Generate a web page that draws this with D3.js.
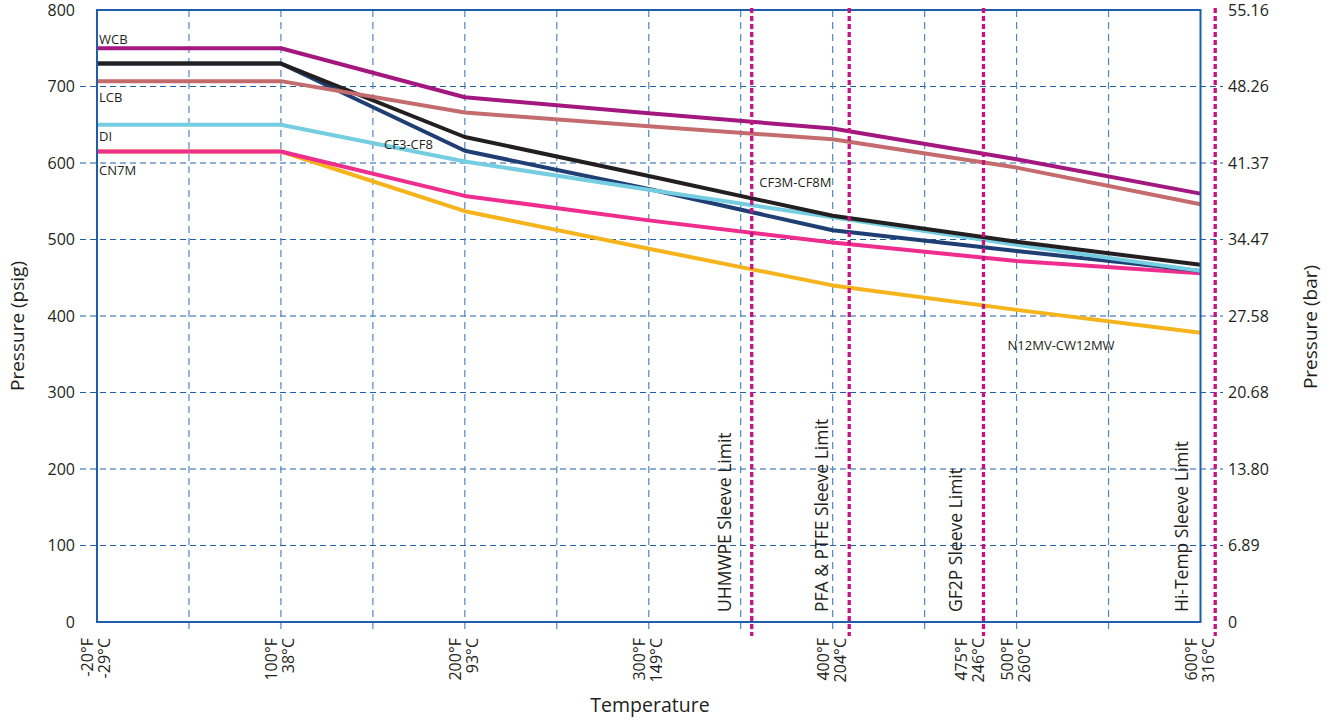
<!DOCTYPE html>
<html><head><meta charset="utf-8">
<script src="https://cdn.jsdelivr.net/npm/d3@7"></script>
<style>
html,body{margin:0;padding:0;background:#fff;}
text{font-family:"Open Sans","Noto Sans",sans-serif;fill:#231f20;}
</style></head>
<body>
<svg id="chart" width="1332" height="721"></svg>
<script>
// ---- data ----
const tempsF = [-20, 100, 200, 300, 400, 500, 600];
const WCB       = [750, 750, 686, 665, 645, 605, 560];
const CF3M_CF8M = [730, 730, 634, 583, 531, 497, 467];
const CF3_CF8   = [730, 730, 616, 566, 512, 485, 459];
const LCB       = [707, 707, 666, 648, 631, 594, 546];
const DI        = [650, 650, 602, 565, 529, 493, 459];
const CN7M      = [615, 615, 557, 525, 496, 472, 456];
const N12MV     = [615, 615, 537, 488, 440, 408, 378];

const xTickF = [-20, 100, 200, 300, 400, 475, 500, 600];
const xTickC = ["-29°C", "38°C", "93°C", "149°C", "204°C", "246°C", "260°C", "316°C"];
const xGridF = [40, 100, 150, 200, 250, 300, 350, 400, 450, 500, 550];
const psigTicks = [0, 100, 200, 300, 400, 500, 600, 700, 800];
const barLabels = ["0", "6.89", "13.80", "20.68", "27.58", "34.47", "41.37", "48.26", "55.16"];

const sleeveNames = ["UHMWPE Sleeve Limit", "PFA & PTFE Sleeve Limit", "GF2P Sleeve Limit", "Hi-Temp Sleeve Limit"];
const sleeveF = [356, 409, 482, 608];

const seriesNames  = ["N12MV-CW12MW", "CN7M", "CF3-CF8", "DI", "CF3M-CF8M", "LCB", "WCB"];
const seriesValues = [N12MV, CN7M, CF3_CF8, DI, CF3M_CF8M, LCB, WCB];
const seriesColors = ["#f5b41c", "#ee2d8e", "#1f3f74", "#74cde0", "#231f20", "#c46b6e", "#a3187f"];

// label anchors (data units: °F, psig)
const labelText = ["WCB", "LCB", "DI", "CN7M", "CF3-CF8", "CF3M-CF8M", "N12MV-CW12MW"];
const labelF    = [-20, -20, -20, -20, 155, 359, 494];
const labelP    = [756, 680, 629, 584, 618, 569, 356];

// ---- layout ----
const svg = d3.select("#chart");
const L = 97, R = 1200.5, T = 10, B = 622;
const step = (R - L) / 12;
const x = d3.scaleLinear().domain([-20, 100, 600]).range([L, L + 2 * step, R]);
const y = d3.scaleLinear().domain([0, 800]).range([B, T]);

// horizontal grid
svg.append("g").selectAll("line").data(psigTicks.filter(d => d > 0 && d < 800)).join("line")
  .attr("x1", 80).attr("x2", 1223).attr("y1", d => y(d)).attr("y2", d => y(d))
  .attr("stroke", "#1f5ea8").attr("stroke-width", 1.2).attr("stroke-dasharray", "6,4");

// vertical grid
svg.append("g").selectAll("line").data(xGridF).join("line")
  .attr("x1", d => x(d)).attr("x2", d => x(d)).attr("y1", T).attr("y2", 634)
  .attr("stroke", "#4f87c4").attr("stroke-width", 1.2).attr("stroke-dasharray", "7,5");

// lines
const line = d3.line().x((d, i) => x(tempsF[i])).y(d => y(d));
svg.append("g").selectAll("path").data(seriesValues).join("path")
  .attr("d", d => line(d)).attr("fill", "none")
  .attr("stroke", (d, i) => seriesColors[i]).attr("stroke-width", 4)
  .attr("stroke-linejoin", "round");

// border
svg.append("rect").attr("x", L).attr("y", T).attr("width", R - L).attr("height", B - T)
  .attr("fill", "none").attr("stroke", "#1f5ea8").attr("stroke-width", 2);

// sleeve limit lines
svg.append("g").selectAll("line").data(sleeveF).join("line")
  .attr("x1", d => x(d)).attr("x2", d => x(d)).attr("y1", 8).attr("y2", 636)
  .attr("stroke", "#c8127f").attr("stroke-width", 3.3).attr("stroke-dasharray", "5,3");

svg.append("g").selectAll("text").data(sleeveNames).join("text")
  .attr("transform", (d, i) => `translate(${x(sleeveF[i]) - (i === 3 ? 27 : 21)},612) rotate(-90)`)
  .attr("font-size", 17.5).text(d => d);

// series labels
svg.append("g").selectAll("text").data(labelText).join("text")
  .attr("x", (d, i) => x(labelF[i]) + 2).attr("y", (d, i) => y(labelP[i]))
  .attr("font-size", 13).text(d => d);

// left axis labels
svg.append("g").selectAll("text").data(psigTicks).join("text")
  .attr("x", 75).attr("y", d => y(d) + 5.5).attr("text-anchor", "end")
  .attr("font-size", 16).text(d => d);

// right axis labels
svg.append("g").selectAll("text").data(barLabels).join("text")
  .attr("x", 1228).attr("y", (d, i) => y(psigTicks[i]) + 5.5)
  .attr("font-size", 16).text(d => d);

// x tick labels
const xl = svg.append("g");
xTickF.forEach((f, i) => {
  xl.append("text").attr("transform", `translate(${x(f) - 4},638) rotate(-90)`)
    .attr("text-anchor", "end").attr("font-size", 16).text(f + "°F");
  xl.append("text").attr("transform", `translate(${x(f) + 13},638) rotate(-90)`)
    .attr("text-anchor", "end").attr("font-size", 16).text(xTickC[i]);
});

// axis titles
svg.append("text").attr("transform", "translate(24,326) rotate(-90)").attr("text-anchor", "middle")
  .attr("font-size", 19).text("Pressure (psig)");
svg.append("text").attr("transform", "translate(1317,327) rotate(-90)").attr("text-anchor", "middle")
  .attr("font-size", 19).text("Pressure (bar)");
svg.append("text").attr("x", 650).attr("y", 712).attr("text-anchor", "middle")
  .attr("font-size", 19.5).text("Temperature");
</script>
</body></html>
